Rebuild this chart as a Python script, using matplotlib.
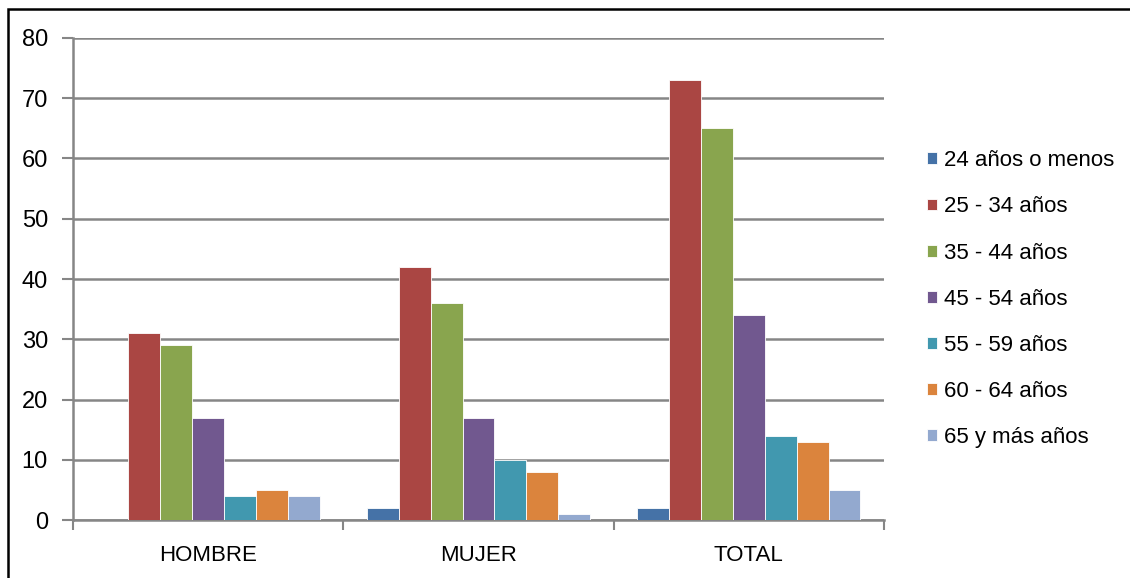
import numpy as np
import matplotlib
matplotlib.use("Agg")
import matplotlib.pyplot as plt
from matplotlib.patches import Rectangle

# datos
grupos = ["HOMBRE", "MUJER", "TOTAL"]
edades = ["24 años o menos", "25 - 34 años", "35 - 44 años", "45 - 54 años",
          "55 - 59 años", "60 - 64 años", "65 y más años"]
hombre = [0, 31, 29, 17, 4, 5, 4]
mujer = [2, 42, 36, 17, 10, 8, 1]
total = [2, 73, 65, 34, 14, 13, 5]
colores = ["#4572A7", "#AA4643", "#89A54E", "#71588F", "#4198AF", "#DB843D", "#93A9CF"]

valores = np.array([hombre, mujer, total])

plt.rcParams['font.family'] = ['Liberation Sans', 'DejaVu Sans']

fig = plt.figure(figsize=(11.3, 5.78), dpi=100)
ax = fig.add_axes([0.0646, 0.1003, 0.7177, 0.834])

gris = "#868686"
n = len(edades)
ancho = 0.118
x = np.arange(len(grupos))
for i in range(n):
    desp = (i - (n - 1) / 2) * ancho
    ax.bar(x + desp, valores[:, i], width=ancho, color=colores[i],
           edgecolor="white", linewidth=0.6, label=edades[i], zorder=3)

ax.set_xlim(-0.5, len(grupos) - 0.5)
ax.set_ylim(0, 80)
ax.set_yticks(range(0, 81, 10))
ax.yaxis.grid(True, color=gris, linewidth=1.8, zorder=0)

ax.set_xticks(x)
ax.set_xticklabels(grupos)
ax.set_xticks(np.arange(-0.5, len(grupos)), minor=True)
ax.tick_params(axis='x', which='major', length=0, pad=18, labelsize=16)
ax.tick_params(axis='x', which='minor', length=7, width=1.5, color=gris)
ax.tick_params(axis='y', length=8, width=1.5, color=gris, pad=10, labelsize=17)

for s in ["top", "right"]:
    ax.spines[s].set_visible(False)
for s in ["left", "bottom"]:
    ax.spines[s].set_color(gris)
    ax.spines[s].set_linewidth(1.8)

ax.legend(loc="center left", bbox_to_anchor=(0.820, 0.4825),
          bbox_transform=fig.transFigure, frameon=False, fontsize=16,
          handlelength=0.45, handleheight=0.45, handletextpad=0.35,
          labelspacing=1.13, borderpad=0, borderaxespad=0)

# marco recortado
fig.patches.append(Rectangle((8 / 1130, -0.5), 2.0, 1.5 - 9 / 578,
                             transform=fig.transFigure, fill=False,
                             edgecolor="black", linewidth=1.8))

fig.savefig("out.png", dpi=100)
